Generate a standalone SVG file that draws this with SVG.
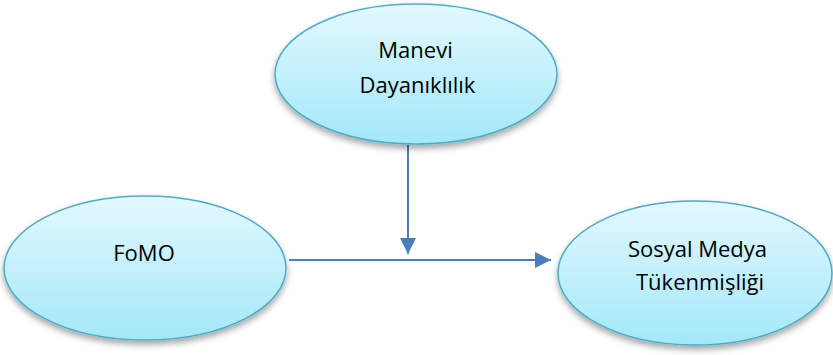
<svg xmlns="http://www.w3.org/2000/svg" width="833" height="355" viewBox="0 0 833 355">
<style>
.node ellipse{fill:url(#g);stroke:#4bacc6;stroke-width:1.5;filter:url(#sh)}
.node text{font-family:"Open Sans","Liberation Sans",sans-serif;font-size:22px;fill:#000;text-anchor:middle}
.conn line{stroke:#4a7ebb;stroke-width:2;fill:none}
</style>
<defs>
<linearGradient id="g" x1="0" y1="0" x2="0" y2="1">
<stop offset="0" stop-color="#e3f8fe"/>
<stop offset="1" stop-color="#a3e8f9"/>
</linearGradient>
<filter id="sh" x="-20%" y="-20%" width="140%" height="150%">
<feDropShadow dx="0" dy="4" stdDeviation="3" flood-color="#000" flood-opacity="0.35"/>
</filter>
<marker id="ah" markerWidth="8" markerHeight="8" viewBox="0 0 8 8" refX="8" refY="4" orient="auto" markerUnits="strokeWidth">
<path d="M0,0 L8,4 L0,8 Z" fill="#4a7ebb"/>
</marker>
</defs>
<g class="conn">
<line x1="289" y1="260" x2="551" y2="260" marker-end="url(#ah)"/>
<line x1="408" y1="145" x2="408" y2="254" marker-end="url(#ah)"/>
</g>
<g id="manevi" class="node">
<ellipse cx="416" cy="74" rx="141" ry="70"/>
<text x="415.5" y="58">Manevi</text>
<text x="417.5" y="93">Dayanıklılık</text>
</g>
<g id="fomo" class="node">
<ellipse cx="145" cy="268" rx="141" ry="72"/>
<text x="144" y="261">FoMO</text>
</g>
<g id="sosyal" class="node">
<ellipse cx="695" cy="273" rx="137" ry="72"/>
<text x="697.5" y="257">Sosyal Medya</text>
<text x="700" y="290">Tükenmişliği</text>
</g>
</svg>
